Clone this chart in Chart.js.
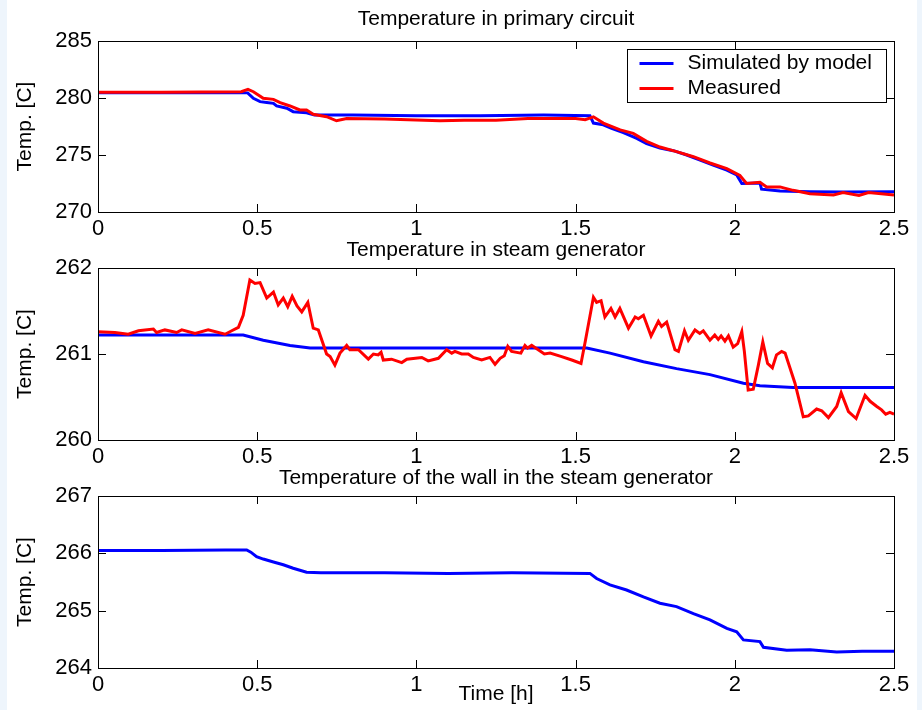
<!DOCTYPE html>
<html>
<head>
<meta charset="utf-8">
<title>Temperatures</title>
<script src="https://cdn.jsdelivr.net/npm/chart.js@4.4.1/dist/chart.umd.min.js"></script>
<style>
  html, body { margin: 0; padding: 0; background: #eef5fc; }
  #wrap { position: relative; width: 922px; height: 710px; background: #eef5fc; overflow: hidden; }
  #paper { position: absolute; left: 7px; top: 0; width: 910px; height: 710px; background: #fff; }
  canvas { position: absolute; left: 0; top: 0; }
</style>
</head>
<body>
<div id="wrap">
  <div id="paper"></div>
  <canvas id="primChart" width="922" height="710"></canvas>
  <canvas id="sgChart" width="922" height="710"></canvas>
  <canvas id="wallChart" width="922" height="710"></canvas>
</div>
<script>
// time axis in hours, temperatures in C

// Temperature in primary circuit
const primSimT  = [0, 0.2, 0.4, 0.47, 0.488, 0.509, 0.53, 0.551, 0.561, 0.593, 0.613, 0.655, 0.68, 0.8, 1.0, 1.2, 1.4,
                   1.545, 1.556, 1.587, 1.613, 1.65, 1.692, 1.723, 1.765, 1.807, 1.849, 1.891, 1.932, 1.975, 2.006,
                   2.022, 2.079, 2.084, 2.142, 2.236, 2.34, 2.5];
const primSimV  = [280.45, 280.45, 280.47, 280.45, 279.97, 279.68, 279.6, 279.53, 279.3, 279.1, 278.8, 278.7, 278.5,
                   278.5, 278.45, 278.45, 278.5, 278.45, 277.8, 277.65, 277.34, 276.96, 276.46, 276.0, 275.6, 275.38,
                   275.0, 274.56, 274.12, 273.68, 273.25, 272.5, 272.55, 272.0, 271.85, 271.78, 271.75, 271.77];
const primMeasT = [0, 0.2, 0.45, 0.471, 0.488, 0.519, 0.551, 0.572, 0.603, 0.634, 0.655, 0.676, 0.718, 0.749, 0.781,
                   0.9, 1.074, 1.15, 1.25, 1.35, 1.5, 1.53, 1.556, 1.587, 1.64, 1.681, 1.723, 1.765, 1.817, 1.87,
                   1.922, 1.975, 2.016, 2.037, 2.079, 2.1, 2.142, 2.183, 2.236, 2.31, 2.34, 2.39, 2.42, 2.5];
const primMeasV = [280.5, 280.5, 280.55, 280.75, 280.55, 279.97, 279.88, 279.6, 279.3, 278.95, 278.95, 278.57, 278.36,
                   278.0, 278.2, 278.15, 278.0, 278.05, 278.05, 278.2, 278.2, 278.1, 278.35, 277.8, 277.2, 276.9,
                   276.2, 275.7, 275.3, 274.85, 274.3, 273.8, 273.2, 272.5, 272.6, 272.2, 272.2, 271.9, 271.6, 271.5,
                   271.7, 271.45, 271.7, 271.5];

// Temperature in steam generator
const sgSimT  = [0, 0.2, 0.456, 0.519, 0.603, 0.666, 0.8, 1.2, 1.535, 1.608, 1.713, 1.817, 1.922, 2.027, 2.079, 2.183, 2.5];
const sgSimV  = [261.22, 261.22, 261.22, 261.16, 261.1, 261.07, 261.07, 261.07, 261.07, 261.01, 260.91, 260.83,
                 260.76, 260.66, 260.63, 260.61, 260.61];
const sgMeasT = [0, 0.053, 0.095, 0.127, 0.174, 0.184, 0.21, 0.247, 0.263, 0.305, 0.346, 0.399, 0.42, 0.441, 0.456,
                 0.477, 0.493, 0.509, 0.53, 0.551, 0.566, 0.582, 0.596, 0.61, 0.625, 0.64, 0.659, 0.676, 0.692, 0.718,
                 0.729, 0.744, 0.76, 0.781, 0.791, 0.818, 0.849, 0.865, 0.88, 0.889, 0.896, 0.922, 0.954, 0.97, 1.017,
                 1.037, 1.069, 1.095, 1.111, 1.121, 1.142, 1.163, 1.179, 1.205, 1.231, 1.247, 1.263, 1.276, 1.287,
                 1.299, 1.328, 1.341, 1.349, 1.362, 1.378, 1.402, 1.42, 1.456, 1.488, 1.517, 1.53, 1.556, 1.566, 1.58,
                 1.592, 1.611, 1.624, 1.639, 1.666, 1.687, 1.697, 1.713, 1.737, 1.76, 1.77, 1.786, 1.812, 1.823,
                 1.842, 1.854, 1.875, 1.89, 1.901, 1.922, 1.937, 1.948, 1.957, 1.969, 1.98, 1.995, 2.009, 2.022, 2.03,
                 2.042, 2.058, 2.074, 2.088, 2.103, 2.118, 2.131, 2.147, 2.158, 2.189, 2.215, 2.231, 2.257, 2.273,
                 2.294, 2.32, 2.334, 2.357, 2.381, 2.409, 2.425, 2.446, 2.461, 2.474, 2.487, 2.5];
const sgMeasV = [261.26, 261.25, 261.23, 261.27, 261.29, 261.25, 261.28, 261.25, 261.28, 261.24, 261.28, 261.23,
                 261.27, 261.31, 261.45, 261.86, 261.82, 261.83, 261.65, 261.72, 261.57, 261.65, 261.55, 261.67,
                 261.56, 261.49, 261.6, 261.3, 261.28, 261.0, 260.97, 260.87, 261.01, 261.1, 261.05, 261.05, 260.94,
                 261.0, 260.99, 261.02, 260.93, 260.94, 260.9, 260.94, 260.96, 260.92, 260.95, 261.05, 261.01,
                 261.03, 261.0, 261.0, 260.96, 260.93, 260.96, 260.88, 260.95, 260.98, 261.09, 261.03, 261.01, 261.1,
                 261.07, 261.1, 261.06, 261.0, 261.01, 260.97, 260.93, 260.89, 261.14, 261.66, 261.6, 261.62, 261.43,
                 261.53, 261.43, 261.53, 261.3, 261.43, 261.41, 261.45, 261.21, 261.38, 261.32, 261.37, 261.05,
                 261.03, 261.27, 261.16, 261.28, 261.24, 261.27, 261.16, 261.22, 261.17, 261.21, 261.15, 261.21,
                 261.08, 261.12, 261.26, 261.03, 260.58, 260.59, 260.87, 261.14, 260.89, 260.84, 260.99, 261.03,
                 261.01, 260.66, 260.27, 260.28, 260.36, 260.34, 260.26, 260.39, 260.55, 260.33, 260.25, 260.52,
                 260.45, 260.39, 260.35, 260.3, 260.32, 260.3];

// Temperature of the wall in the steam generator
const wallT = [0, 0.2, 0.4, 0.467, 0.48, 0.498, 0.519, 0.551, 0.582, 0.613, 0.655, 0.7, 0.9, 1.1, 1.3, 1.545, 1.566,
               1.608, 1.66, 1.713, 1.765, 1.817, 1.87, 1.922, 1.975, 2.006, 2.027, 2.079, 2.09, 2.163, 2.236, 2.32,
               2.4, 2.5];
const wallV = [266.05, 266.05, 266.06, 266.06, 266.02, 265.94, 265.9, 265.85, 265.8, 265.74, 265.67, 265.66, 265.66,
               265.65, 265.66, 265.65, 265.56, 265.45, 265.36, 265.24, 265.13, 265.07, 264.95, 264.84, 264.69,
               264.63, 264.49, 264.46, 264.36, 264.31, 264.32, 264.28, 264.29, 264.29];

const seriesNames = ['Simulated by model', 'Measured'];
const xTicks = [0, 0.5, 1, 1.5, 2, 2.5];

Chart.defaults.font.family = '"Liberation Sans", Arial, Helvetica, sans-serif';
Chart.defaults.color = '#000';

function toXY(t, v) {
  return t.map((x, i) => ({ x: x, y: v[i] }));
}

// box round the plot with the small inward ticks on all four sides
const frameTicks = {
  id: 'frameTicks',
  afterDatasetsDraw(chart) {
    const { ctx, chartArea: a, scales } = chart;
    const len = 8;
    ctx.save();
    ctx.strokeStyle = '#000';
    ctx.lineWidth = 1;
    ctx.beginPath();
    scales.x.ticks.forEach(t => {
      const px = Math.round(scales.x.getPixelForValue(t.value)) + 0.5;
      ctx.moveTo(px, a.bottom); ctx.lineTo(px, a.bottom - len);
      ctx.moveTo(px, a.top); ctx.lineTo(px, a.top + len);
    });
    scales.y.ticks.forEach(t => {
      const py = Math.round(scales.y.getPixelForValue(t.value)) + 0.5;
      ctx.moveTo(a.left, py); ctx.lineTo(a.left + len, py);
      ctx.moveTo(a.right, py); ctx.lineTo(a.right - len, py);
    });
    ctx.stroke();
    ctx.strokeRect(Math.round(a.left) + 0.5, Math.round(a.top) + 0.5,
                   Math.round(a.right - a.left), Math.round(a.bottom - a.top));
    ctx.restore();
  }
};

// matlab style legend box in the upper right corner of the plot
const boxLegend = {
  id: 'boxLegend',
  afterDatasetsDraw(chart) {
    const { ctx, chartArea: a } = chart;
    const w = 259, h = 53;
    const left = Math.round(a.right - 8 - w) + 0.5;
    const top = Math.round(a.top + 8) + 0.5;
    ctx.save();
    ctx.fillStyle = '#fff';
    ctx.fillRect(left, top, w, h);
    ctx.strokeStyle = '#000';
    ctx.lineWidth = 1;
    ctx.strokeRect(left, top, w, h);
    ctx.font = '21px "Liberation Sans", Arial, sans-serif';
    ctx.textBaseline = 'middle';
    chart.data.datasets.forEach((ds, i) => {
      const y = top + 14 + i * 25;
      ctx.strokeStyle = ds.borderColor;
      ctx.lineWidth = 3;
      ctx.beginPath();
      ctx.moveTo(left + 12, y);
      ctx.lineTo(left + 46, y);
      ctx.stroke();
      ctx.fillStyle = '#000';
      ctx.fillText(ds.label, left + 60, y);
    });
    ctx.restore();
  }
};

function lineSet(label, data, color, order) {
  return {
    label: label,
    data: data,
    borderColor: color,
    backgroundColor: color,
    borderWidth: 3,
    pointRadius: 0,
    tension: 0,
    order: order
  };
}

function makeChart(id, cfg) {
  const xScale = {
    type: 'linear',
    min: 0,
    max: 2.5,
    afterBuildTicks: s => { s.ticks = xTicks.map(v => ({ value: v })); },
    ticks: { font: { size: 22 }, padding: 4, maxRotation: 0, autoSkip: false, color: '#000',
             callback: v => String(v) },
    grid: { display: false, drawTicks: false },
    border: { display: false },
    afterFit: s => { s.height = cfg.xHeight; }
  };
  if (cfg.xTitle) {
    xScale.title = { display: true, text: cfg.xTitle, font: { size: 21 }, color: '#000',
                     padding: { top: 0, bottom: 3.4 } };
  }

  return new Chart(document.getElementById(id), {
    type: 'line',
    data: { datasets: cfg.datasets },
    options: {
      responsive: false,
      animation: false,
      devicePixelRatio: 1,
      layout: { padding: { left: 0, right: 28, top: cfg.padTop, bottom: cfg.padBottom } },
      scales: {
        x: xScale,
        y: {
          type: 'linear',
          min: cfg.yMin,
          max: cfg.yMax,
          afterBuildTicks: s => { s.ticks = cfg.yTicks.map(v => ({ value: v })); },
          ticks: { font: { size: 22 }, padding: 6, color: '#000', callback: v => String(v) },
          grid: { display: false, drawTicks: false },
          border: { display: false },
          title: { display: true, text: 'Temp. [C]', font: { size: 21 }, color: '#000',
                   padding: { top: 12.4, bottom: 0 } },
          afterFit: s => { s.width = 98; }
        }
      },
      plugins: {
        legend: { display: false },
        tooltip: { enabled: false },
        title: {
          display: true,
          text: cfg.title,
          fullSize: false,
          color: '#000',
          font: { size: 21, weight: 'normal' },
          padding: { top: 0, bottom: cfg.titleGap }
        }
      }
    },
    plugins: cfg.legend ? [frameTicks, boxLegend] : [frameTicks]
  });
}

makeChart('primChart', {
  title: 'Temperature in primary circuit',
  padTop: 6.4, titleGap: 9.4, padBottom: 458, xHeight: 40,
  yMin: 270, yMax: 285, yTicks: [270, 275, 280, 285],
  legend: true,
  datasets: [
    lineSet(seriesNames[0], toXY(primSimT, primSimV), '#0000ff', 1),
    lineSet(seriesNames[1], toXY(primMeasT, primMeasV), '#ff0000', 0)
  ]
});

makeChart('sgChart', {
  title: 'Temperature in steam generator',
  padTop: 237.4, titleGap: 5.4, padBottom: 230, xHeight: 40,
  yMin: 260, yMax: 262, yTicks: [260, 261, 262],
  datasets: [
    lineSet(seriesNames[0], toXY(sgSimT, sgSimV), '#0000ff', 1),
    lineSet(seriesNames[1], toXY(sgMeasT, sgMeasV), '#ff0000', 0)
  ]
});

makeChart('wallChart', {
  title: 'Temperature of the wall in the steam generator',
  padTop: 465.4, titleGap: 5.4, padBottom: 0, xHeight: 42,
  yMin: 264, yMax: 267, yTicks: [264, 265, 266, 267],
  xTitle: 'Time [h]',
  datasets: [
    lineSet(seriesNames[0], toXY(wallT, wallV), '#0000ff', 0)
  ]
});
</script>
</body>
</html>
